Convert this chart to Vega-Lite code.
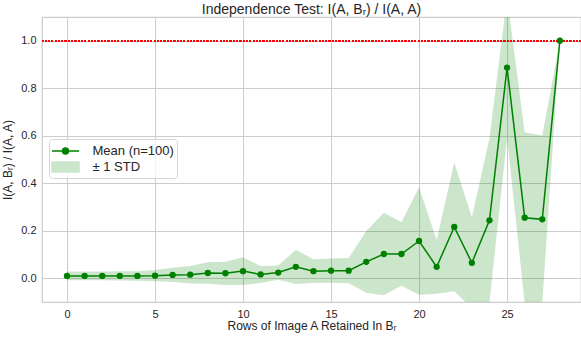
{
  "$schema": "https://vega.github.io/schema/vega-lite/v6.json",
  "width": 539,
  "height": 285,
  "autosize": {"type": "none"},
  "padding": {"left": 42, "top": 17, "right": 0, "bottom": 39},
  "background": "white",
  "title": {
    "text": "Independence Test: I(A, Bᵣ) / I(A, A)",
    "fontSize": 14,
    "fontWeight": "normal",
    "color": "#262626",
    "offset": 0
  },
  "config": {
    "font": "Liberation Sans",
    "view": {"stroke": "#cccccc", "strokeWidth": 1.25},
    "axis": {
      "gridColor": "#cccccc",
      "gridWidth": 1,
      "domain": false,
      "ticks": false,
      "labelFontSize": 11,
      "labelColor": "#262626",
      "labelPadding": 6,
      "titleFontSize": 12,
      "titleFontWeight": "normal",
      "titleColor": "#262626"
    },
    "legend": {
      "title": null,
      "orient": "none",
      "legendX": 7,
      "legendY": 122,
      "padding": 3,
      "cornerRadius": 3,
      "strokeColor": "#d6d6d6",
      "fillColor": "rgba(255,255,255,0.8)",
      "labelFontSize": 13,
      "labelColor": "#262626",
      "labelOffset": 18,
      "rowPadding": 0,
      "symbolOffset": 4.5,
      "symbolSize": 272,
      "symbolStrokeWidth": 1.5
    }
  },
  "data": {
    "values": [
      {"x": 0, "mean": 0.010, "lo": -0.008, "hi": 0.028},
      {"x": 1, "mean": 0.010, "lo": -0.008, "hi": 0.028},
      {"x": 2, "mean": 0.010, "lo": -0.008, "hi": 0.028},
      {"x": 3, "mean": 0.010, "lo": -0.009, "hi": 0.029},
      {"x": 4, "mean": 0.010, "lo": -0.010, "hi": 0.030},
      {"x": 5, "mean": 0.011, "lo": -0.013, "hi": 0.035},
      {"x": 6, "mean": 0.014, "lo": -0.016, "hi": 0.044},
      {"x": 7, "mean": 0.015, "lo": -0.022, "hi": 0.052},
      {"x": 8, "mean": 0.022, "lo": -0.023, "hi": 0.067},
      {"x": 9, "mean": 0.021, "lo": -0.028, "hi": 0.070},
      {"x": 10, "mean": 0.030, "lo": -0.028, "hi": 0.088},
      {"x": 11, "mean": 0.016, "lo": -0.020, "hi": 0.052},
      {"x": 12, "mean": 0.024, "lo": -0.006, "hi": 0.054},
      {"x": 13, "mean": 0.048, "lo": -0.024, "hi": 0.120},
      {"x": 14, "mean": 0.030, "lo": -0.020, "hi": 0.080},
      {"x": 15, "mean": 0.032, "lo": -0.019, "hi": 0.083},
      {"x": 16, "mean": 0.032, "lo": -0.021, "hi": 0.085},
      {"x": 17, "mean": 0.069, "lo": -0.061, "hi": 0.199},
      {"x": 18, "mean": 0.102, "lo": -0.072, "hi": 0.276},
      {"x": 19, "mean": 0.102, "lo": -0.032, "hi": 0.236},
      {"x": 20, "mean": 0.157, "lo": -0.069, "hi": 0.383},
      {"x": 21, "mean": 0.048, "lo": -0.065, "hi": 0.161},
      {"x": 22, "mean": 0.216, "lo": -0.055, "hi": 0.487},
      {"x": 23, "mean": 0.065, "lo": -0.127, "hi": 0.257},
      {"x": 24, "mean": 0.244, "lo": -0.102, "hi": 0.590},
      {"x": 25, "mean": 0.887, "lo": 0.590, "hi": 1.184},
      {"x": 26, "mean": 0.255, "lo": -0.105, "hi": 0.615},
      {"x": 27, "mean": 0.248, "lo": -0.105, "hi": 0.601},
      {"x": 28, "mean": 1.000, "lo": 1.000, "hi": 1.000}
    ]
  },
  "layer": [
    {
      "mark": {"type": "area", "clip": true, "color": "green", "opacity": 0.2},
      "encoding": {
        "x": {
          "field": "x",
          "type": "quantitative",
          "scale": {"domain": [-1.42, 29.2], "nice": false, "zero": false},
          "axis": {
            "values": [0, 5, 10, 15, 20, 25],
            "title": "Rows of Image A Retained In Bᵣ",
            "titlePadding": 1
          }
        },
        "y": {
          "field": "lo",
          "type": "quantitative",
          "scale": {"domain": [-0.1, 1.1], "nice": false, "zero": false},
          "axis": {
            "values": [0, 0.2, 0.4, 0.6, 0.8, 1.0],
            "format": ".1f",
            "title": "I(A, Bᵣ) / I(A, A)",
            "titlePadding": 6
          }
        },
        "y2": {"field": "hi"}
      }
    },
    {
      "mark": {"type": "rule", "color": "red", "strokeDash": [1.3, 2], "strokeWidth": 1.4},
      "encoding": {"y": {"datum": 1}}
    },
    {
      "mark": {"type": "line", "strokeWidth": 1.5, "clip": true, "point": {"filled": true, "size": 40}},
      "encoding": {
        "x": {"field": "x", "type": "quantitative"},
        "y": {"field": "mean", "type": "quantitative"},
        "color": {
          "datum": "Mean (n=100)",
          "scale": {"domain": ["Mean (n=100)", "± 1 STD"], "range": ["green", "#cce6cc"]},
          "legend": {
            "encode": {
              "symbols": {
                "update": {
                  "shape": {"signal": "datum.value === 'Mean (n=100)' ? 'M-1.64,0H1.64M-0.36,0A0.36,0.36,0,1,0,0.36,0A0.36,0.36,0,1,0,-0.36,0' : 'M-1.64,-0.6H1.64V0.6H-1.64Z'"},
                  "size": {"value": 272},
                  "fill": {"scale": "color", "field": "value"},
                  "stroke": {"signal": "datum.value === 'Mean (n=100)' ? 'green' : 'transparent'"},
                  "strokeWidth": {"value": 1.5},
                  "opacity": {"value": 1},
                  "fillOpacity": {"value": 1},
                  "strokeOpacity": {"value": 1}
                }
              }
            }
          }
        }
      }
    }
  ]
}
